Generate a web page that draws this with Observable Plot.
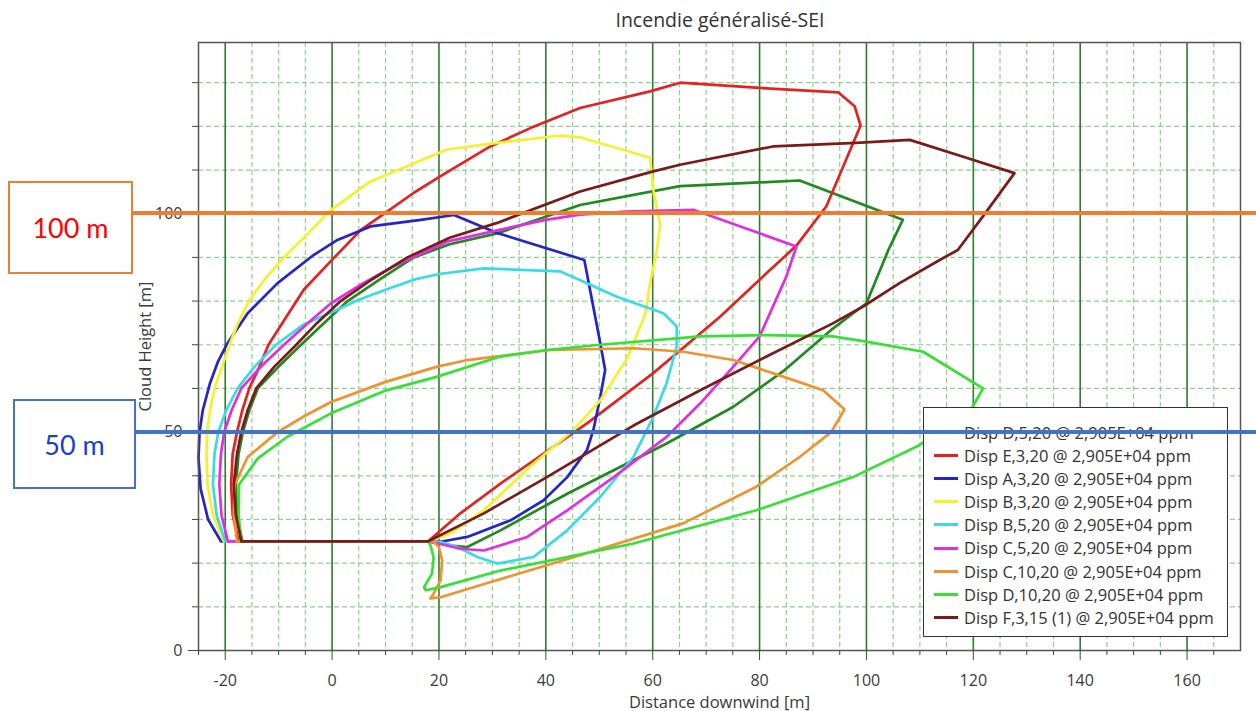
<!DOCTYPE html>
<html>
<head>
<meta charset="utf-8">
<script src="https://cdn.jsdelivr.net/npm/d3@7"></script>
<script src="https://cdn.jsdelivr.net/npm/@observablehq/plot@0.6"></script>
<style>
  html, body { margin: 0; padding: 0; background: #fff; }
  #wrap { position: relative; width: 1256px; height: 711px; overflow: hidden; font-family: "Open Sans", sans-serif; }
  #chart { position: absolute; left: 0; top: 0; }
  #title { position: absolute; left: 470px; width: 500px; top: 6px; text-align: center; font-size: 19.5px; color: #333; }
  #legend { position: absolute; left: 923px; top: 407px; width: 305px; height: 230px; background: #fff; border: 1.5px solid #333; padding-top: 13px; box-sizing: border-box; z-index: 2; }
  .row { height: 23.1px; line-height: 23.1px; font-size: 16.5px; color: #333; white-space: nowrap; display: flex; align-items: center; }
  .sw { display: inline-block; width: 24px; height: 3px; margin-left: 10px; margin-right: 6px; }
  .hline { position: absolute; height: 4px; z-index: 3; }
  .box { position: absolute; box-sizing: border-box; border: 2px solid; background: #fff; z-index: 3; display: flex; align-items: center; justify-content: center; font-family: Lato, sans-serif; font-size: 27px; }
</style>
</head>
<body>
<div id="wrap">
  <div id="chart"></div>
  <div id="title">Incendie généralisé-SEI</div>
  <div id="legend"></div>
</div>
<script>
// ---- Data ----
const seriesNames = [
  "Disp D,5,20 @ 2,905E+04 ppm",
  "Disp E,3,20 @ 2,905E+04 ppm",
  "Disp A,3,20 @ 2,905E+04 ppm",
  "Disp B,3,20 @ 2,905E+04 ppm",
  "Disp B,5,20 @ 2,905E+04 ppm",
  "Disp C,5,20 @ 2,905E+04 ppm",
  "Disp C,10,20 @ 2,905E+04 ppm",
  "Disp D,10,20 @ 2,905E+04 ppm",
  "Disp F,3,15 (1) @ 2,905E+04 ppm"
];
const seriesColors = ["#1f8a1f", "#e52222", "#2424c8", "#f2f22e", "#3adbe6", "#e22ee2", "#f0922f", "#36e036", "#7a1a1a"];

// contour points [distance downwind m, cloud height m]
const dispD_5_20 = [[-16.8,25],[-17.8,31],[-18,38],[-17.5,45],[-16.7,50],[-15.5,55],[-13.9,60],[-10,65],[-5.8,70],[-1.5,75],[2.9,80],[9,85],[15.3,90],[22,93],[30.9,95.5],[46.4,102],[65.1,106.3],[87.5,107.6],[106.8,98.6],[104.1,91.7],[100,79.5],[93.4,73.4],[84.7,64.2],[75.1,55.8],[62.6,47.4],[44,35.9],[31.5,27.5],[25.3,23.7],[22.2,24],[18,25]];
const dispE_3_20 = [[-17.5,25],[-18.6,31],[-18.9,38],[-18.6,45],[-17.8,50],[-16.8,55],[-15.5,60],[-13.6,65],[-11.9,70],[-9.3,75],[-5.3,82.6],[-0.2,89.2],[5.4,96.3],[10.3,100.5],[15.3,104.8],[20.3,108.6],[29.6,115.4],[37.1,119.6],[46.4,124.2],[59.5,128],[65.1,130],[80,128.8],[94.7,127.8],[97.8,124.6],[98.9,120.2],[92.5,101.7],[86.9,92.7],[80,84.9],[72.6,76.4],[60.1,63.5],[47.7,52],[39.6,45.1],[31.5,38.2],[24,31.4],[18,25]];
const dispA_3_20 = [[-20.8,25],[-23.2,30],[-24.6,37],[-25,44],[-24.8,50],[-24.2,55],[-22.9,61],[-21.4,66],[-19.6,70.3],[-15.8,77.2],[-10.2,84.1],[-3.4,90.6],[1,94],[7.2,97.1],[16.6,98.6],[22.8,99.7],[30.9,95.6],[47.2,89.4],[50.2,70.3],[51.1,64.2],[50.2,58.1],[48.9,50.5],[47.7,45.9],[44,39.7],[39.6,34.4],[33.4,29.8],[25.3,26],[20.3,24.9],[18,25]];
const dispB_3_20 = [[-20.3,25],[-22.3,31],[-23.3,38],[-23.5,45],[-23.4,50],[-22.7,56],[-22,60],[-20.6,65],[-19.2,70],[-17.6,75],[-15.6,80],[-12.6,85],[-9,90],[-4.5,95.5],[-0.2,100.9],[7.2,107.4],[14.1,110.9],[21.5,114.7],[30.9,116.2],[42.7,117.9],[46.4,117.5],[59.5,112.8],[60.2,104.7],[61.4,97.5],[60.8,91.7],[59.5,84.1],[58.6,77],[55.2,66.8],[50.2,57.3],[45.2,50.5],[37.7,42.8],[28.4,32.1],[22.2,26.8],[18,25]];
const dispB_5_20 = [[-20,25],[-21.6,31],[-22.3,38],[-22,45],[-21.3,50],[-19.8,55],[-17.7,60],[-14.5,65],[-10.5,70],[-5.5,74.5],[0,77.5],[5,80.3],[10,82.6],[15.3,84.9],[20,86.2],[28.4,87.5],[42.7,86.8],[47.7,84.1],[53.3,81],[62,77.2],[64.5,74.2],[64.5,69.6],[62.6,61.2],[60.1,53.5],[56.4,44.3],[50.2,35.2],[44,27.5],[37.7,21.4],[30.9,19.9],[27.2,21.4],[23.4,23.7],[20.5,24.8],[18,25]];
const dispC_5_20 = [[-19.5,25],[-20.7,31],[-21.1,38],[-20.8,45],[-20.2,50],[-18.8,55],[-17,60],[-13.3,65],[-9,70],[-4.5,75],[-0.2,79.5],[5,83.5],[11.6,88],[21.5,93.6],[30.9,96.2],[40,98.6],[46.4,99.8],[55,100.5],[67.6,100.9],[86.9,92.5],[85,85.6],[80,71.9],[75.1,65],[68.9,56.6],[62.6,48.9],[52.7,39.7],[44,32.1],[36.5,26],[28.4,22.9],[24,23.3],[20.9,24.2],[18,25]];
const dispC_10_20 = [[-17.8,25],[-18.4,31],[-18.2,38],[-15.8,44.3],[-10.2,50],[-5,53.8],[-0.2,56.9],[10,61.5],[19.7,65],[25.3,66.5],[40.8,68.8],[56.4,69.2],[65.7,68.4],[75.1,66.5],[84.4,62.7],[91.9,59.6],[95.9,55.2],[93.4,50],[87.5,44.3],[79.4,37.5],[65.7,29.1],[46.4,21.8],[30,15.8],[20.3,12.2],[18.4,11.9],[19,13],[20.3,16.1],[20.6,20.6],[20,23.7],[19,24.9],[18,25]];
const dispD_10_20 = [[-17,25],[-17.5,31],[-17.4,38],[-13.9,44],[-8.3,49],[-0.2,54.3],[10,59.5],[19.7,62.7],[31.5,67.3],[40.2,68.8],[50.2,70],[68.9,71.9],[81.3,72.2],[93.7,71.9],[100,70.7],[110.6,68.4],[121.8,60],[119.9,55.8],[109.9,47],[97.5,39.7],[79.4,32.1],[56.4,24.5],[31.5,18.3],[20.3,14.5],[17.5,13.8],[17.2,14.5],[18.7,17.6],[19,21.4],[18.4,24.1],[18,25]];
const dispF_3_15 = [[-17,25],[-18,31],[-18.4,38],[-17.8,45],[-17,50],[-15.8,55],[-14.2,60],[-10.8,65],[-6.7,70],[-2.8,75],[1.6,80],[7.5,85],[14.1,90],[22,94.5],[30.9,97.9],[46.4,105.1],[60.1,109.7],[65.1,111.2],[82.5,115.4],[98.1,116.2],[108.1,116.9],[118.7,112.8],[127.7,109.3],[121.8,99.4],[117.1,91.7],[113.7,89.4],[106.2,84.1],[99.3,78.7],[93.7,74.9],[81.3,67.3],[68.9,59.6],[56.4,51.5],[40.2,39.7],[28.4,31.4],[18,25]];

const seriesPoints = [dispD_5_20, dispE_3_20, dispA_3_20, dispB_3_20, dispB_5_20, dispC_5_20, dispC_10_20, dispD_10_20, dispF_3_15];

// axis ticks
const xTickLabels = [-20, 0, 20, 40, 60, 80, 100, 120, 140, 160];
const xMinorTicks = [-25, -15, -10, -5, 5, 10, 15, 25, 30, 35, 45, 50, 55, 65, 70, 75, 85, 90, 95, 105, 110, 115, 125, 130, 135, 145, 150, 155, 165];
const yTickLabels = [0, 50, 100];
const yMinorTicks = [10, 20, 30, 40, 60, 70, 80, 90, 110, 120, 130];
const yGrid = [10, 20, 30, 40, 50, 60, 70, 80, 90, 100, 110, 120, 130];
const xDomain = [-25, 170];
const yDomain = [0, 139.2];
const xLabel = "Distance downwind [m]";
const yLabel = "Cloud Height [m]";

// ---- Build table (closed contours) ----
const rows = [];
seriesPoints.forEach((pts, i) => {
  pts.concat([pts[0]]).forEach(([x, y]) => rows.push({name: seriesNames[i], x, y}));
});

const W = 1256, H = 711;
const fmt = d => String(d);
const plot = Plot.plot({
  width: W, height: H,
  marginLeft: 198, marginRight: 16, marginTop: 42, marginBottom: 61,
  style: {fontFamily: "'Open Sans', sans-serif", fontSize: "16px", color: "#3a3a3a", background: "white", overflow: "visible"},
  x: {domain: xDomain},
  y: {domain: yDomain},
  color: {domain: seriesNames, range: seriesColors},
  marks: [
    Plot.ruleX(xMinorTicks.filter(d => d > xDomain[0]), {stroke: "#8fd18f", strokeWidth: 1.2, strokeDasharray: "5,3"}),
    Plot.ruleY(yGrid, {stroke: "#8fd18f", strokeWidth: 1.2, strokeDasharray: "5,3"}),
    Plot.ruleX(xTickLabels, {stroke: "#2e7d2e", strokeWidth: 1.6}),
    Plot.line(rows, {x: "x", y: "y", z: "name", stroke: "name", strokeWidth: 2.7, curve: "linear", strokeLinejoin: "round"}),
    Plot.frame({stroke: "#555", strokeWidth: 1.5}),
    Plot.axisX({ticks: xMinorTicks, tickSize: 5, tickFormat: () => "", stroke: "#444", label: null}),
    Plot.axisX({ticks: xTickLabels, tickSize: 10, tickPadding: 14, tickFormat: fmt, stroke: "#444", fill: "#3a3a3a", label: xLabel, labelAnchor: "center", labelOffset: 57, labelArrow: "none"}),
    Plot.axisY({ticks: yMinorTicks, tickSize: 6, tickFormat: () => "", stroke: "#444", label: null}),
    Plot.axisY({ticks: yTickLabels, tickSize: 10, tickPadding: 6, tickFormat: fmt, stroke: "#444", fill: "#3a3a3a", label: yLabel, labelAnchor: "center", labelOffset: 59, labelArrow: "none"})
  ]
});
document.getElementById("chart").appendChild(plot);
// enforce text sizes inside the svg
d3.select(plot).selectAll("text").each(function () {
  const t = this.textContent;
  const isLabel = t === xLabel || t === yLabel;
  this.style.fontSize = isLabel ? "16.5px" : "16px";
  this.style.fontFamily = "'Open Sans', sans-serif";
});

// ---- Legend ----
const legend = document.getElementById("legend");
seriesNames.forEach((n, i) => {
  const r = document.createElement("div");
  r.className = "row";
  r.innerHTML = `<span class="sw" style="background:${seriesColors[i]}"></span><span>${n}</span>`;
  legend.appendChild(r);
});

// ---- Annotations (lines positioned through the y scale) ----
const ys = plot.scale("y");
const wrap = document.getElementById("wrap");
function annot(value, color, textColor, label, box) {
  const y = ys.apply(value);
  const line = document.createElement("div");
  line.className = "hline";
  line.style.background = color;
  line.style.left = box.right + "px";
  line.style.width = (W - box.right) + "px";
  line.style.top = (y - 2) + "px";
  wrap.appendChild(line);
  const b = document.createElement("div");
  b.className = "box";
  b.style.borderColor = color;
  b.style.color = textColor;
  b.style.left = box.left + "px";
  b.style.width = (box.right - box.left) + "px";
  b.style.top = box.top + "px";
  b.style.height = box.height + "px";
  b.textContent = label;
  wrap.appendChild(b);
}
annot(100, "#ed7d31", "#ff0000", "100 m", {left: 8, right: 133, top: 181, height: 93});
annot(50, "#4472c4", "#1a3fd0", "50 m", {left: 13, right: 136, top: 399, height: 90});
</script>
</body>
</html>
